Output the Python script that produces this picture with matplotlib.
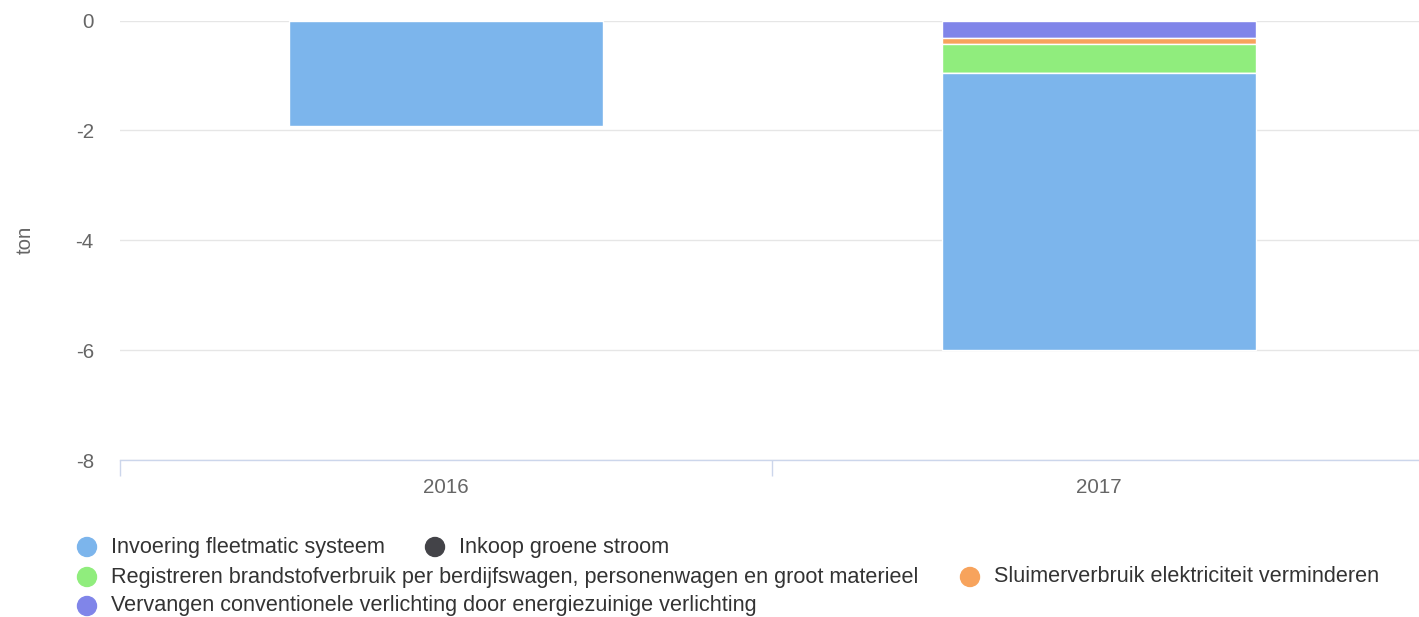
import matplotlib
matplotlib.use("Agg")
import matplotlib.pyplot as plt
from matplotlib.patches import Circle
import numpy as np

plt.rcParams["font.family"] = ["Liberation Sans", "DejaVu Sans"]

categories = ["2016", "2017"]
series_names = [
    "Invoering fleetmatic systeem",
    "Inkoop groene stroom",
    "Registreren brandstofverbruik per berdijfswagen, personenwagen en groot materieel",
    "Sluimerverbruik elektriciteit verminderen",
    "Vervangen conventionele verlichting door energiezuinige verlichting",
]
series_values = [
    [-1.92, -5.05],
    [0.0, 0.0],
    [0.0, -0.53],
    [0.0, -0.11],
    [0.0, -0.31],
]
colors = ["#7cb5ec", "#434348", "#90ed7d", "#f7a35c", "#8085e9"]
yticks = [0, -2, -4, -6, -8]

W, H = 1419, 617
fig = plt.figure(figsize=(W / 100, H / 100), dpi=100)
ax = fig.add_axes([119.5 / W, 1 - 460 / H, 1306 / W, (460 - 20.5) / H])

x = np.arange(len(categories))
# stack from zero outward: last series closest to zero (highcharts order)
bottom = np.zeros(len(categories))
for name, vals, col in reversed(list(zip(series_names, series_values, colors))):
    vals = np.array(vals)
    ax.bar(x, vals, bottom=bottom, width=0.48, color=col,
           edgecolor="white", linewidth=1, zorder=3)
    bottom = bottom + vals

ax.set_xlim(-0.5, len(categories) - 0.5)
ax.set_ylim(-8, 0)
ax.set_yticks(yticks)
ax.set_yticklabels([str(t) for t in yticks])
ax.yaxis.grid(True, color="#e6e6e6", linewidth=1, zorder=0)
ax.tick_params(axis="y", length=0, pad=18.5, labelsize=14.8, labelcolor="#666666")

ax.set_xticks(x)
ax.set_xticklabels(categories)
ax.tick_params(axis="x", length=0, pad=13, labelsize=14.8, labelcolor="#666666")
ax.set_xticks(np.arange(-0.5, len(categories)), minor=True)
ax.tick_params(axis="x", which="minor", length=11.5, color="#ccd6eb", width=1)

for s in ["top", "right", "left"]:
    ax.spines[s].set_visible(False)
ax.spines["bottom"].set_color("#ccd6eb")
ax.spines["bottom"].set_linewidth(1)

fig.text(25 / W, 1 - 240 / H, "ton", rotation=90, ha="center", va="center",
         fontsize=14.8, color="#666666")

# legend, laid out in rows like the original (positions in pixels)
legend_pos = [(87, 547), (435, 547), (87, 577), (970, 577), (87, 606)]
for (px, py), name, col in zip(legend_pos, series_names, colors):
    fig.add_artist(Circle((px / 100, (H - py) / 100), 9.5 / 100,
                          transform=fig.dpi_scale_trans, color=col))
    fig.text((px + 24) / W, 1 - py / H, name, ha="left", va="center",
             fontsize=15.6, color="#333333")

fig.savefig("out.png", dpi=100)
